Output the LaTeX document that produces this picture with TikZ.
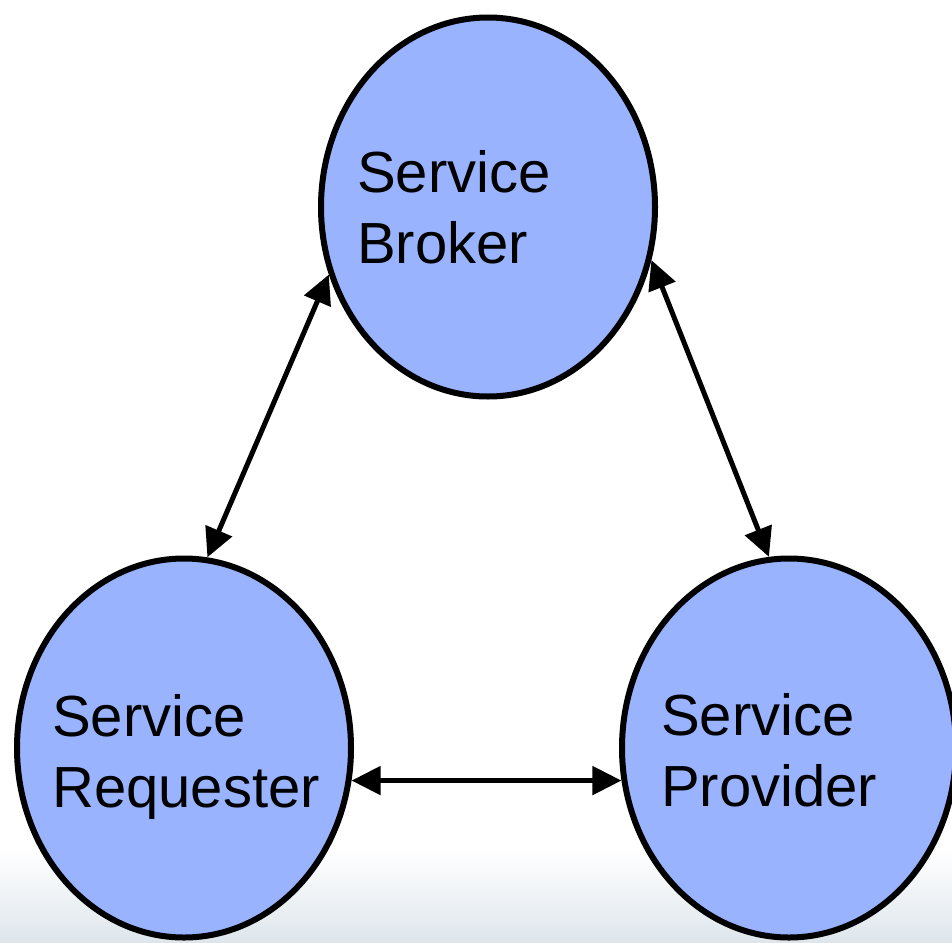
\documentclass[tikz,border=0pt]{standalone}
\usepackage{fontspec}
\setmainfont{Liberation Sans}
\usetikzlibrary{shapes.geometric,arrows.meta}
\definecolor{nodeblue}{RGB}{153,179,255}
\definecolor{bgbottom}{RGB}{222,230,236}
\tikzset{
  bubble/.style={ellipse,draw=black,line width=6pt,fill=nodeblue,minimum width=334pt,minimum height=379pt,inner sep=0pt},
  bubbletext/.style={anchor=base west,align=left,inner sep=0pt,font=\fontsize{58}{71}\selectfont},
  link/.style={line width=5pt,{Triangle[length=29pt,width=28pt]}-{Triangle[length=29pt,width=28pt]}}
}
\begin{document}
\begin{tikzpicture}[x=1pt,y=-1pt]
\useasboundingbox (0,0) rectangle (952,942);
\fill[white] (0,0) rectangle (952,942);
\shade[top color=white,bottom color=bgbottom] (0,850) rectangle (952,942);
\begin{scope}
\clip (0,0) rectangle (952,942);
\node[bubble] (broker) at (488,207) {};
\node[bubble] (requester) at (184,748) {};
\node[bubble] (provider) at (789,748) {};
\end{scope}
\node[bubbletext] (brokertext) at (357,263) {Service\\Broker};
\node[bubbletext] (requestertext) at (52,807) {Service\\Requester};
\node[bubbletext] (providertext) at (661,806) {Service\\Provider};
\draw[link] (broker.203) -- (requester.83);
\draw[link] (broker.-18) -- (provider.96);
\draw[link] (requester.-11.4) -- (provider.191.6);
\end{tikzpicture}
\end{document}
